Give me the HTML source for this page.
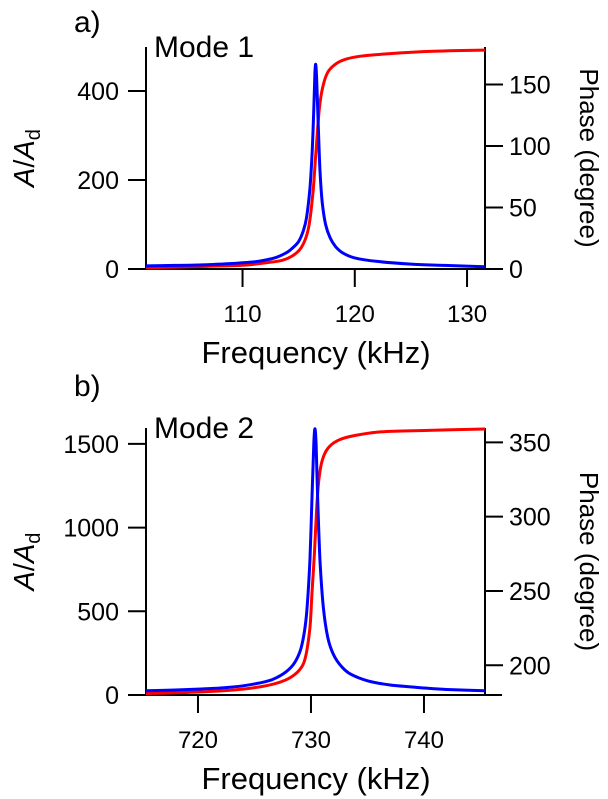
<!DOCTYPE html>
<html><head><meta charset="utf-8"><style>
body{margin:0;background:#fff;width:608px;height:799px;overflow:hidden}
svg{display:block;font-family:"Liberation Sans",Arial,sans-serif}
</style></head><body>
<svg id="s" width="608" height="799">
<text x="74" y="32" font-size="30">a)</text>
<text x="74" y="396" font-size="30">b)</text>
</svg>
<script>
// Mode 1 data
const m1Freq=[101.4,104,106,108,110,111,112,113,114,114.5,115,115.4,115.7,116,116.2,116.35,116.45,116.52,116.6,116.75,116.9,117.1,117.4,117.8,118.3,119,120,122,125,128,131.6];
const m1Amp=[7,8,9,11,14,16,20,26,38,48,62,85,115,180,260,360,440,460,430,320,220,150,100,70,50,35,25,17,11,8,5];
const m1PhFreq=[101.4,106,110,112,113.5,114.5,115.2,115.7,116,116.3,116.5,116.7,116.9,117.2,117.6,118.2,119,120.5,123,127,131.6];
const m1Phase=[1,2,3,5,7,11,17,27,40,65,90,115,135,150,160,166,170,173,175,177,178];
// Mode 2 data
const m2Freq=[715.4,718,720,722,724,726,727,728,728.7,729.2,729.6,729.9,730.1,730.25,730.35,730.45,730.6,730.8,731.1,731.5,732,732.7,733.5,735,737,740,742,745.4];
const m2Amp=[25,30,35,42,55,80,105,150,210,300,480,800,1200,1500,1590,1500,1150,800,520,340,240,170,125,85,60,42,33,25];
const m2PhFreq=[715.4,720,724,726.5,728,729,729.5,729.9,730.1,730.3,730.5,730.7,731,731.5,732.3,733.5,736,740,745.4];
const m2Phase=[181,182,184,187,191,197,205,225,250,275,305,325,338,346,351,354,357,358,359];

const S=document.getElementById('s');const NS='http://www.w3.org/2000/svg';
function el(t,a,txt){const e=document.createElementNS(NS,t);for(const k in a)e.setAttribute(k,a[k]);if(txt!==undefined)e.textContent=txt;S.appendChild(e);return e;}
function smooth(pts){
  let d='M'+pts[0][0].toFixed(1)+','+pts[0][1].toFixed(1);
  for(let i=0;i<pts.length-1;i++){
    const p0=pts[Math.max(0,i-1)],p1=pts[i],p2=pts[i+1],p3=pts[Math.min(pts.length-1,i+2)];
    const t=0.15;
    const c1=[p1[0]+(p2[0]-p0[0])*t,p1[1]+(p2[1]-p0[1])*t];
    const c2=[p2[0]-(p3[0]-p1[0])*t,p2[1]-(p3[1]-p1[1])*t];
    d+='C'+c1.map(v=>v.toFixed(1)).join(',')+' '+c2.map(v=>v.toFixed(1)).join(',')+' '+p2[0].toFixed(1)+','+p2[1].toFixed(1);
  }
  return d;
}
function panel(p){
  const L=146,R=485;
  const xs=f=>L+(f-p.x0)/(p.x1-p.x0)*(R-L);
  const ys=v=>p.base-(v/p.ampPer)*p.ampPx;
  const yp=v=>p.base-((v-p.ph0)/50)*p.phPx;
  let g;
  g=el('line',{x1:L,y1:p.top,x2:L,y2:p.base,stroke:'#000','stroke-width':2});
  
  g=el('line',{x1:R,y1:p.top,x2:R,y2:p.base,stroke:'#000','stroke-width':2});
  
  g=el('line',{x1:128,y1:p.base,x2:502,y2:p.base,stroke:'#000','stroke-width':2});
  
  p.xt.forEach(t=>{const x=xs(t);
    g=el('line',{x1:x,y1:p.base,x2:x,y2:p.base+18,stroke:'#000','stroke-width':2});
    
    g=el('text',{x:x,y:p.base+53,'font-size':24,'text-anchor':'middle'},String(t));
    });
  p.yt.forEach(t=>{const y=ys(t);
    g=el('line',{x1:128,y1:y,x2:L,y2:y,stroke:'#000','stroke-width':2});
    
    g=el('text',{x:119,y:y+9,'font-size':25,'text-anchor':'end'},String(t));
    });
  p.pt.forEach(t=>{const y=yp(t);
    g=el('line',{x1:R,y1:y,x2:503,y2:y,stroke:'#000','stroke-width':2});
    
    g=el('text',{x:509,y:y+9,'font-size':25},String(t));
    });
  g=el('path',{d:smooth(p.phF.map((f,i)=>[xs(f),yp(p.ph[i])])),fill:'none',stroke:'#ff0000','stroke-width':3,'stroke-linejoin':'round'});
  
  g=el('path',{d:smooth(p.aF.map((f,i)=>[xs(f),ys(p.a[i])])),fill:'none',stroke:'#0000ff','stroke-width':3,'stroke-linejoin':'round'});
  
  g=el('text',{x:154,y:p.top+10,'font-size':30},p.mode);
  
  g=el('text',{x:316,y:p.base+94,'font-size':31,'text-anchor':'middle'},'Frequency (kHz)');
  
  const cy=(p.top+p.base)/2;
  g=el('text',{x:0,y:0,'font-size':29,'text-anchor':'middle',transform:'translate(34,'+cy+') rotate(-90)'});
  g.innerHTML='<tspan font-style="italic">A</tspan>/<tspan font-style="italic">A</tspan><tspan font-size="20" dy="6">d</tspan>';
  
  g=el('text',{x:0,y:0,'font-size':26,'text-anchor':'middle',transform:'translate(580,'+cy+') rotate(90)'},'Phase (degree)');
  
}
panel({id:'mode1',mode:'Mode 1',x0:101.4,x1:131.6,top:47,base:269,ampPer:200,ampPx:89,ph0:0,phPx:61.5,
  xt:[110,120,130],yt:[0,200,400],pt:[0,50,100,150],aF:m1Freq,a:m1Amp,phF:m1PhFreq,ph:m1Phase});
panel({id:'mode2',mode:'Mode 2',x0:715.4,x1:745.4,top:428,base:695,ampPer:500,ampPx:83.7,ph0:180,phPx:74.3,
  xt:[720,730,740],yt:[0,500,1000,1500],pt:[200,250,300,350],aF:m2Freq,a:m2Amp,phF:m2PhFreq,ph:m2Phase});
</script>
</body></html>
